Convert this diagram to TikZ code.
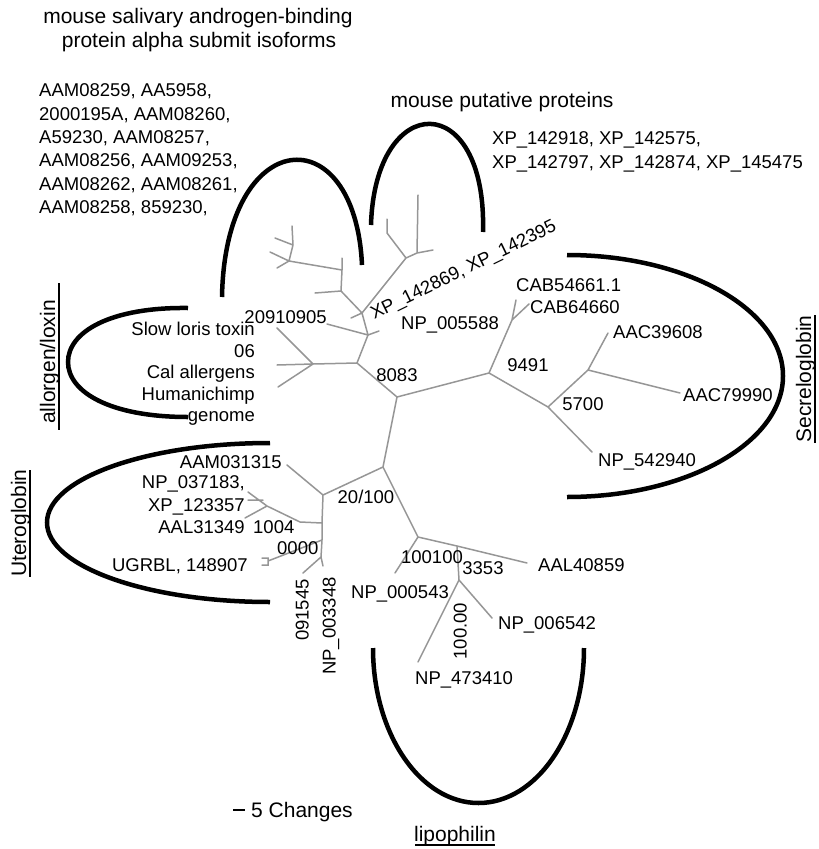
\documentclass[tikz,border=0pt]{standalone}
\usepackage{fontspec}
\setmainfont{Liberation Sans}
\definecolor{treegray}{RGB}{150,150,150}
\begin{document}
\begin{tikzpicture}[x=1pt,y=-1pt,
  tree/.style={draw=treegray, line width=1.5pt, line cap=round},
  arcline/.style={draw=black, line width=4.5pt},
  lab/.style={font=\fontsize{18.5}{23}\selectfont, inner sep=0pt, text height=13.2pt, text depth=0pt},
  big/.style={font=\fontsize{21}{24}\selectfont, inner sep=0pt},
  ul/.style={draw=black, line width=1.2pt}]
\useasboundingbox (0,0) rectangle (819,849);

% ---------- tree coordinates ----------
\coordinate (A) at (397,397);
\coordinate (B) at (357,363);
\coordinate (F) at (313,364);
\coordinate (F1) at (277,328);
\coordinate (F2) at (277,365);
\coordinate (F3) at (278,387);
\coordinate (C) at (368,335);
\coordinate (C1) at (327,324);
\coordinate (C2) at (379,331);
\coordinate (D) at (362,313);
\coordinate (D1) at (351,318);
\coordinate (E) at (341,291);
\coordinate (E1) at (315,293);
\coordinate (H) at (342,270);
\coordinate (H1) at (342,258);
\coordinate (I) at (289,261);
\coordinate (I1) at (277,268);
\coordinate (I2) at (293,245);
\coordinate (I3) at (292,226);
\coordinate (I4) at (275,238);
\coordinate (I5) at (270,252);
\coordinate (G) at (406,258);
\coordinate (G2) at (417,253);
\coordinate (G2a) at (418,195);
\coordinate (G2b) at (433,250);
\coordinate (G3) at (387,233);
\coordinate (G3a) at (387,219);
\coordinate (S) at (489,373);
\coordinate (T) at (512,320);
\coordinate (T1) at (516,300);
\coordinate (T2) at (529,304);
\coordinate (U) at (548,407);
\coordinate (U1) at (592,452);
\coordinate (V) at (588,370);
\coordinate (V1) at (608,333);
\coordinate (V2) at (680,393);
\coordinate (J) at (383,467);
\coordinate (K) at (323,495);
\coordinate (K1) at (287,465);
\coordinate (N1) at (322,523);
\coordinate (P) at (300,522);
\coordinate (O) at (267,506);
\coordinate (O1) at (248,492);
\coordinate (O2) at (248,500);
\coordinate (O2b) at (263,500);
\coordinate (O3) at (245,518);
\coordinate (M2) at (322,540);
\coordinate (W) at (268,561);
\coordinate (Wa) at (268,558);
\coordinate (Wb) at (268,565);
\coordinate (W1) at (262,558);
\coordinate (W2) at (262,565);
\coordinate (M) at (321,557);
\coordinate (M1) at (303,573);
\coordinate (M3) at (323,566);
\coordinate (L) at (418,537);
\coordinate (L1) at (395,573);
\coordinate (Q) at (457,546);
\coordinate (Q1) at (527,563);
\coordinate (R) at (459,580);
\coordinate (R1) at (418,662);
\coordinate (R2) at (492,618);

% ---------- tree branches ----------
\draw[tree] (A)--(B) (B)--(F) (F)--(F1) (F)--(F2) (F)--(F3)
  (B)--(C) (C)--(C1) (C)--(C2) (C)--(D) (D)--(D1) (D)--(E) (E)--(E1)
  (E)--(H) (H)--(H1) (H)--(I) (I)--(I1) (I)--(I2) (I2)--(I3) (I2)--(I4) (I)--(I5)
  (D)--(G) (G)--(G2) (G2)--(G2a) (G2)--(G2b) (G)--(G3) (G3)--(G3a);
\draw[tree] (A)--(S) (S)--(T) (T)--(T1) (T)--(T2) (S)--(U) (U)--(U1)
  (U)--(V) (V)--(V1) (V)--(V2);
\draw[tree] (A)--(J) (J)--(K) (K)--(K1) (K)--(N1) (N1)--(P) (P)--(O)
  (O)--(O1) (O)--(O3) (O2)--(O2b) (N1)--(M2) (M2)--(W) (M2)--(M)
  (M)--(M1) (M)--(M3) (W1)--(Wa)--(Wb)--(W2)
  (J)--(L) (L)--(L1) (L)--(Q) (Q)--(Q1) (Q)--(R) (R)--(R1) (R)--(R2);

% ---------- thick group arcs ----------
\draw[arcline] (222,297) .. controls (225,125) and (355,115) .. (362,265);
\draw[arcline] (371,225) .. controls (375,90) and (487,88) .. (483,232);
\draw[arcline] (567,255) .. controls (686,255) and (783,309) .. (783,376)
                         .. controls (783,443) and (686,497) .. (567,497);
\draw[arcline] (188,308) .. controls (110,307) and (68,332) .. (68,362)
                         .. controls (68,392) and (110,417) .. (188,417);
\draw[arcline] (270,443) .. controls (146.8,443) and (47,478.6) .. (47,522.5)
                         .. controls (47,566.4) and (146.8,602) .. (270,602);
\draw[arcline] (373,648) .. controls (373,733.6) and (420.2,803) .. (478.5,803)
                         .. controls (536.8,803) and (584,733.6) .. (584,648);

% ---------- headings ----------
\node[big, anchor=base] (title1) at (198,23.5) {mouse salivary androgen-binding};
\node[big, anchor=base] (title2) at (199,47.5) {protein alpha submit isoforms};
\node[big, anchor=base] (putative) at (502,107.5) {mouse putative proteins};

% ---------- top-left accession block ----------
\node[lab, anchor=west] (sal1) at (39,90) {AAM08259, AA5958,};
\node[lab, anchor=west] (sal2) at (39,113.4) {2000195A, AAM08260,};
\node[lab, anchor=west] (sal3) at (39,136.8) {A59230, AAM08257,};
\node[lab, anchor=west] (sal4) at (39,160.2) {AAM08256, AAM09253,};
\node[lab, anchor=west] (sal5) at (39,183.6) {AAM08262, AAM08261,};
\node[lab, anchor=west] (sal6) at (39,207) {AAM08258, 859230,};

% ---------- top-right block ----------
\node[lab, anchor=west] (xp1) at (492,138) {XP\_142918, XP\_142575,};
\node[lab, anchor=west] (xp2) at (492,162) {XP\_142797, XP\_142874, XP\_145475};

% ---------- tree labels ----------
\node[lab, anchor=east] (n20910905) at (327,317) {20910905};
\node[lab, anchor=east] (slow) at (255,329) {Slow loris toxin};
\node[lab, anchor=east] (n06) at (255,351) {06};
\node[lab, anchor=east] (cal) at (255,372) {Cal allergens};
\node[lab, anchor=east] (human) at (255,394) {Humanichimp};
\node[lab, anchor=east] (genome) at (255,415) {genome};
\node[lab, rotate=26] (xp142869) at (463,269) {XP\_142869, XP\_142395};
\node[lab] (n8083) at (397,375) {8083};
\node[lab] (n9491) at (528,365) {9491};
\node[lab] (n5700) at (583,404) {5700};
\node[lab, anchor=west] (cab1) at (516,285) {CAB54661.1};
\node[lab, anchor=west] (cab2) at (530,307) {CAB64660};
\node[lab] (np005588) at (450,323) {NP\_005588};
\node[lab, anchor=west] (aac1) at (613,332) {AAC39608};
\node[lab, anchor=west] (aac2) at (683,395) {AAC79990};
\node[lab, anchor=west] (np542940) at (598,460) {NP\_542940};
\node[lab, anchor=east] (aam031315) at (282,462) {AAM031315};
\node[lab, anchor=east] (np037183) at (245,482) {NP\_037183,};
\node[lab, anchor=east] (xp123357) at (245,505) {XP\_123357};
\node[lab, anchor=east] (aal31349) at (245,527) {AAL31349};
\node[lab, anchor=west] (n1004) at (253,527) {1004};
\node[lab, anchor=west] (n0000) at (277,548) {0000};
\node[lab, anchor=east] (ugrbl) at (248,565) {UGRBL, 148907};
\node[lab] (n20100) at (366,497) {20/100};
\node[lab] (n100100) at (432,557) {100100};
\node[lab] (n3353) at (483,568) {3353};
\node[lab, anchor=west] (aal40859) at (538,565) {AAL40859};
\node[lab] (np000543) at (400,592) {NP\_000543};
\node[lab, anchor=west] (np006542) at (498,623) {NP\_006542};
\node[lab, anchor=west] (np473410) at (415,678) {NP\_473410};
\node[lab, rotate=90] (n10000) at (460,631) {100.00};
\node[lab, rotate=90] (n091545) at (302,610) {091545};
\node[lab, rotate=90] (np003348) at (329,626) {NP\_003348};

% ---------- group names ----------
\node[big, rotate=90, anchor=base] (allorgen) at (55,362) {allorgen/loxin};
\draw[ul] (59,283) -- (59,430);
\node[big, rotate=90, anchor=base] (utero) at (26,523) {Uteroglobin};
\draw[ul] (30,470) -- (30,577);
\node[big, rotate=90, anchor=base] (secre) at (811,379) {Secreloglobin};
\draw[ul] (815,315) -- (815,443);
\node[big, anchor=base] (lipo) at (455,841) {lipophilin};
\draw[ul] (415,845) -- (495,845);

% ---------- scale bar ----------
\coordinate (sb1) at (233,810);
\coordinate (sb2) at (245,810);
\draw[draw=black, line width=1.5pt] (sb1) -- (sb2);
\node[big, anchor=base west] (changes) at (251,817.5) {5 Changes};
\end{tikzpicture}
\end{document}
